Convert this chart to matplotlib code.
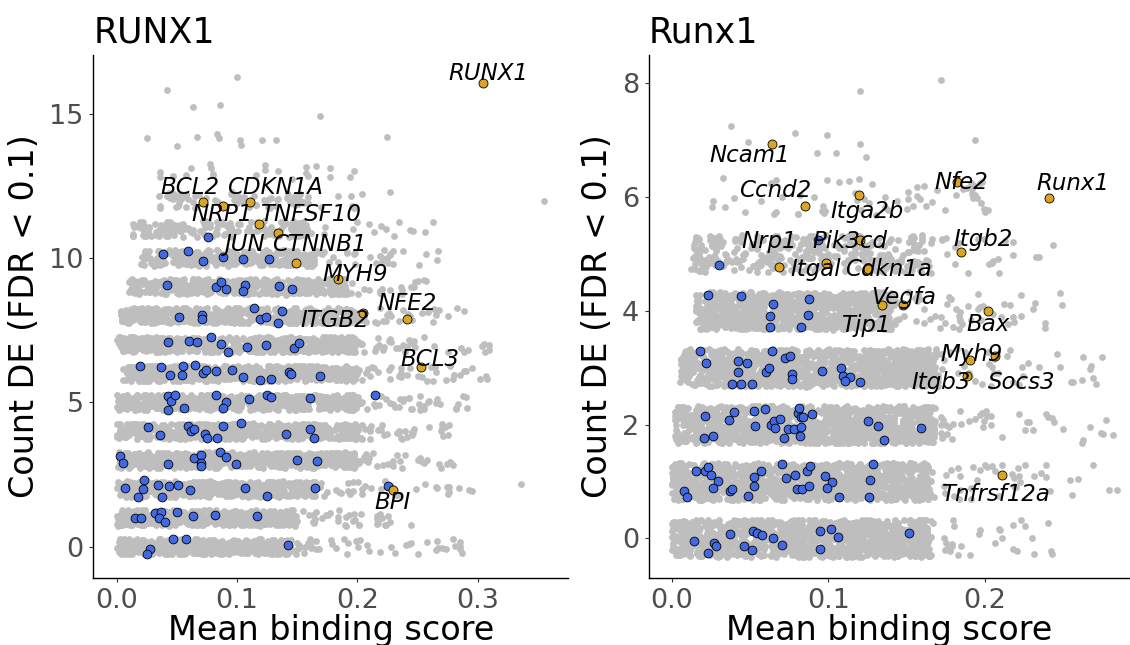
import numpy as np
import matplotlib.pyplot as plt

plt.rcParams['font.family'] = 'DejaVu Sans'

GREY = '#BEBEBE'
BLUE = '#4169E1'
GOLD = '#DAA520'

# ---------------- RUNX1 (human) ----------------
# background genes, one jittered band per DE count
hs_levels = [0, 1, 2, 3, 4, 5, 6, 7, 8, 9, 10, 11, 12, 13]
hs_dense_lo = [0.0, 0.0, 0.0, 0.0, 0.0, 0.0, 0.005, 0.0, 0.003, 0.01, 0.02, 0.01, 0.035, 0.015]
hs_dense_hi = [0.145, 0.15, 0.165, 0.2, 0.2, 0.2, 0.2, 0.2, 0.2, 0.19, 0.165, 0.16, 0.16, 0.2]
hs_n_dense = [460, 470, 500, 540, 540, 540, 520, 520, 500, 440, 300, 170, 75, 22]
hs_tail_hi = [0.29, 0.25, 0.3, 0.28, 0.28, 0.3, 0.31, 0.31, 0.29, 0.26, 0.28, 0.29, 0.23, 0.2]
hs_n_tail = [55, 45, 45, 40, 40, 45, 45, 45, 40, 30, 35, 20, 10, 0]
hs_extra_x = [0.0247, 0.0503, 0.0666, 0.0834, 0.0846, 0.1027, 0.1033, 0.1205, 0.1325,
              0.2247, 0.169, 0.063, 0.0858, 0.0419, 0.100, 0.355, 0.336, 0.285, 0.227]
hs_extra_y = [14.16, 13.86, 14.19, 14.29, 14.16, 14.09, 13.92, 14.07, 14.09,
              14.19, 14.9, 15.23, 15.31, 15.8, 16.28, 11.98, 2.17, 0.17, 12.29]

hs_blue_x = [0.0756,
             0.038, 0.0596, 0.072, 0.0883, 0.1045, 0.1265,
             0.0416, 0.0828, 0.0864, 0.0907, 0.1066, 0.1045, 0.1346, 0.1458,
             0.0515, 0.0711, 0.0711, 0.1139, 0.1187, 0.1241, 0.1373, 0.1337,
             0.0428, 0.0602, 0.0669, 0.0786, 0.0864, 0.0928, 0.1081, 0.1238, 0.147, 0.1518,
             0.0196, 0.0364, 0.044, 0.0548, 0.0542, 0.0648, 0.0717, 0.0741, 0.0822, 0.0955,
             0.1045, 0.1193, 0.128, 0.1434, 0.1452, 0.1693,
             0.2148, 0.0428, 0.0452, 0.0482, 0.0425, 0.0557, 0.0822, 0.091, 0.0886, 0.11,
             0.125, 0.128, 0.1605,
             0.0262, 0.0355, 0.059, 0.062, 0.0642, 0.0732, 0.0753, 0.0834, 0.0883, 0.1033,
             0.141, 0.1605, 0.1642,
             0.003, 0.0054, 0.0428, 0.0645, 0.0702, 0.0699, 0.0699, 0.0858, 0.0904, 0.0994,
             0.1494, 0.166,
             0.0072, 0.0229, 0.0217, 0.0175, 0.0343, 0.0377, 0.0437, 0.0506, 0.0608, 0.1063,
             0.125, 0.1645, 0.2253,
             0.0152, 0.0202, 0.0321, 0.0366, 0.0352, 0.0399, 0.0504, 0.0634, 0.082, 0.1166,
             0.0277, 0.0255, 0.0465, 0.0573, 0.1427]
hs_blue_y = [10.74,
             10.15, 10.24, 9.88, 10.02, 9.98, 9.98,
             9.08, 9.01, 9.18, 8.94, 9.05, 8.87, 9.03, 8.91,
             7.97, 8.01, 7.87, 8.28, 7.87, 7.94, 8.16, 7.76,
             7.10, 7.13, 7.09, 7.27, 7.03, 6.74, 6.93, 6.97, 6.87, 7.04,
             6.26, 6.23, 5.95, 6.26, 5.96, 6.29, 6.02, 6.12, 6.07, 6.12,
             5.87, 5.77, 5.80, 6.06, 5.99, 5.93,
             5.25, 5.23, 5.06, 5.26, 4.73, 4.82, 5.25, 5.02, 4.79, 5.13,
             5.26, 5.18, 5.16,
             4.14, 3.88, 4.18, 4.02, 4.09, 3.92, 3.76, 3.76, 4.19, 4.29,
             3.92, 4.08, 3.75,
             3.14, 2.91, 2.88, 3.08, 3.17, 2.91, 2.81, 3.29, 3.11, 2.88,
             3.02, 2.97,
             2.04, 2.31, 2.00, 1.74, 2.14, 1.71, 2.10, 2.14, 1.98, 2.04,
             1.75, 2.05, 2.10,
             1.00, 1.00, 1.18, 1.19, 0.99, 0.86, 1.20, 1.07, 1.11, 1.07,
             -0.08, -0.25, 0.26, 0.27, 0.06]

hs_genes = ['RUNX1', 'BCL2', 'NRP1', 'CDKN1A', 'TNFSF10', 'JUN', 'CTNNB1',
            'MYH9', 'ITGB2', 'NFE2', 'BCL3', 'BPI']
hs_gene_x = [0.3047, 0.0714, 0.0886, 0.111, 0.118, 0.134, 0.149,
             0.1842, 0.205, 0.241, 0.2527, 0.230]
hs_gene_y = [16.07, 11.95, 11.81, 11.95, 11.19, 10.88, 9.84,
             9.27, 8.08, 7.90, 6.24, 1.95]
hs_text_x = [0.3092, 0.0611, 0.0873, 0.1316, 0.161, 0.107, 0.168,
             0.198, 0.1815, 0.241, 0.2604, 0.229]
hs_text_y = [16.40, 12.43, 11.51, 12.43, 11.51, 10.48, 10.48,
             9.43, 7.85, 8.43, 6.47, 1.54]

# ---------------- Runx1 (mouse) ----------------
mm_levels = [0, 1, 2, 3, 4, 5, 6]
mm_dense_lo = [0.0, 0.0, 0.002, 0.005, 0.015, 0.012, 0.02]
mm_dense_hi = [0.165, 0.165, 0.168, 0.17, 0.14, 0.16, 0.2]
mm_n_dense = [1150, 1150, 1150, 1100, 820, 330, 55]
mm_tail_hi = [0.245, 0.285, 0.283, 0.275, 0.25, 0.245, 0.222]
mm_n_tail = [45, 55, 55, 55, 70, 35, 8]
mm_extra_x = [0.038, 0.049, 0.0786, 0.099, 0.0925, 0.105, 0.12, 0.124, 0.1935, 0.172, 0.12]
mm_extra_y = [7.25, 6.97, 7.13, 7.10, 6.77, 6.77, 6.94, 6.71, 7.0, 8.06, 7.86]

mm_blue_x = [0.0932, 0.030,
             0.0232, 0.044, 0.0646, 0.0874, 0.0625, 0.0872, 0.0629, 0.0827,
             0.0179, 0.0221, 0.0425, 0.048, 0.0421, 0.0387, 0.044, 0.0515, 0.060, 0.0621,
             0.0642, 0.0721, 0.0755, 0.0768, 0.0768, 0.0961, 0.1083, 0.1093, 0.1138, 0.1108,
             0.1204,
             0.0208, 0.0262, 0.0215, 0.0364, 0.0396, 0.0527, 0.053, 0.0598, 0.0634, 0.0653,
             0.0689, 0.0661, 0.074, 0.078, 0.0717, 0.0804, 0.0812, 0.0825, 0.084, 0.0823,
             0.0819, 0.0893, 0.1255, 0.1315, 0.1353, 0.1589,
             0.0157, 0.0213, 0.0234, 0.0251, 0.0294, 0.0262, 0.0081, 0.0096, 0.0372, 0.0387,
             0.0489, 0.0527, 0.0525, 0.057, 0.0702, 0.0731, 0.0785, 0.0862, 0.0885, 0.0798,
             0.0834, 0.0878, 0.0976, 0.1021, 0.0993, 0.1068, 0.1285, 0.1264, 0.1261,
             0.0145, 0.0232, 0.0272, 0.0283, 0.0374, 0.0461, 0.051, 0.0517, 0.0546, 0.0576,
             0.0644, 0.0704, 0.0946, 0.1015, 0.1061, 0.0948, 0.1514]
mm_blue_y = [5.24, 4.81,
             4.28, 4.26, 4.12, 4.21, 3.91, 3.93, 3.71, 3.71,
             3.30, 3.09, 3.12, 3.09, 2.92, 2.71, 2.71, 2.71, 2.93, 2.99,
             3.30, 3.17, 3.21, 2.89, 2.81, 2.94, 3.00, 2.86, 2.84, 2.77,
             2.75,
             1.77, 1.80, 2.16, 2.08, 2.23, 2.24, 1.98, 2.27, 1.99, 2.07,
             2.10, 1.95, 1.92, 1.92, 1.76, 2.20, 2.30, 2.14, 2.14, 1.96,
             1.80, 2.19, 2.06, 1.98, 1.73, 1.95,
             1.19, 1.19, 1.26, 1.11, 1.01, 0.88, 0.84, 0.73, 0.84, 0.87,
             0.75, 0.92, 1.08, 1.19, 1.30, 1.06, 1.11, 1.19, 1.27, 0.87,
             0.87, 0.92, 1.09, 0.99, 0.88, 0.72, 1.30, 1.03, 0.72,
             -0.05, -0.26, -0.085, -0.13, 0.08, -0.13, -0.20, 0.13, 0.10, 0.06,
             0.00, -0.12, 0.13, 0.17, 0.03, -0.19, 0.10]

mm_genes = ['Ncam1', 'Ccnd2', 'Itga2b', 'Nfe2', 'Runx1', 'Nrp1', 'Pik3cd', 'Itgal',
            'Cdkn1a', 'Itgb2', 'Tjp1', 'Vegfa', 'Bax', 'Myh9', 'Itgb3', 'Socs3', 'Tnfrsf12a']
mm_gene_x = [0.064, 0.0853, 0.1198, 0.1819, 0.2406, 0.0682, 0.1205, 0.0983,
             0.1256, 0.1848, 0.134, 0.1474, 0.202, 0.1904, 0.1887, 0.2063, 0.211]
mm_gene_y = [6.94, 5.84, 6.03, 6.26, 5.98, 4.78, 5.25, 4.85,
             4.73, 5.03, 4.10, 4.10, 3.99, 3.13, 2.86, 3.21, 1.12]
mm_text_x = [0.0497, 0.0657, 0.1249, 0.1846, 0.2557, 0.0622, 0.114, 0.0918,
             0.138, 0.1985, 0.124, 0.148, 0.2017, 0.1915, 0.172, 0.2234, 0.2063]
mm_text_y = [6.74, 6.11, 5.74, 6.25, 6.24, 5.22, 5.22, 4.73,
             4.73, 5.25, 3.74, 4.23, 3.76, 3.23, 2.75, 2.75, 0.765]

rng = np.random.default_rng(11)


def jitter_cloud(levels, lo, hi, n_dense, tail_hi, n_tail, height):
    xs, ys = [], []
    for lev, a, b, n, t, m in zip(levels, lo, hi, n_dense, tail_hi, n_tail):
        x = np.concatenate([rng.uniform(a, b, n),
                            b - 0.01 + (t - b + 0.01) * rng.uniform(0, 1, m) ** 1.6])
        xs.append(x)
        ys.append(lev + rng.uniform(-height, height, x.size))
    return np.concatenate(xs), np.concatenate(ys)


def draw_panel(ax, title, cloud, extra_x, extra_y, blue_x, blue_y,
               genes, gx, gy, tx, ty, xlim, ylim, xticks, yticks):
    cx, cy = cloud
    ax.scatter(cx, cy, s=24, c=GREY, linewidths=0, zorder=1)
    ax.scatter(extra_x, extra_y, s=24, c=GREY, linewidths=0, zorder=1)
    ax.scatter(blue_x, blue_y, s=40, c=BLUE, edgecolors='black', linewidths=0.6, zorder=2)
    ax.scatter(gx, gy, s=42, c=GOLD, edgecolors='black', linewidths=0.6, zorder=3)
    for g, x, y in zip(genes, tx, ty):
        ax.text(x, y, g, fontsize=16.5, style='italic', ha='center', va='center', zorder=4)
    ax.set_xlim(*xlim)
    ax.set_ylim(*ylim)
    ax.set_xticks(xticks)
    ax.set_xticklabels([f'{v:.1f}' for v in xticks])
    ax.set_yticks(yticks)
    for side in ['top', 'right']:
        ax.spines[side].set_visible(False)
    for side in ['left', 'bottom']:
        ax.spines[side].set_linewidth(1.0)
    ax.tick_params(length=3, width=0.8, color='#333333', labelsize=19.5,
                   labelcolor='#4D4D4D', pad=4)
    ax.set_xlabel('Mean binding score', fontsize=24, labelpad=0)
    ax.set_ylabel('Count DE (FDR < 0.1)', fontsize=24, labelpad=6)
    ax.set_title(title, fontsize=25, loc='left', pad=9)


fig = plt.figure(figsize=(11.3, 6.45), dpi=100)
ax1 = fig.add_axes([0.0826, 0.1039, 0.4200, 0.811])
ax2 = fig.add_axes([0.5743, 0.1039, 0.4257, 0.811])

draw_panel(ax1, 'RUNX1',
           jitter_cloud(hs_levels, hs_dense_lo, hs_dense_hi, hs_n_dense,
                        hs_tail_hi, hs_n_tail, 0.27),
           hs_extra_x, hs_extra_y, hs_blue_x, hs_blue_y,
           hs_genes, hs_gene_x, hs_gene_y, hs_text_x, hs_text_y,
           (-0.0195, 0.375), (-1.08, 17.03), [0.0, 0.1, 0.2, 0.3], [0, 5, 10, 15])

draw_panel(ax2, 'Runx1',
           jitter_cloud(mm_levels, mm_dense_lo, mm_dense_hi, mm_n_dense,
                        mm_tail_hi, mm_n_tail, 0.33),
           mm_extra_x, mm_extra_y, mm_blue_x, mm_blue_y,
           mm_genes, mm_gene_x, mm_gene_y, mm_text_x, mm_text_y,
           (-0.0145, 0.2925), (-0.695, 8.50), [0.0, 0.1, 0.2], [0, 2, 4, 6, 8])

fig.savefig('out.png', dpi=100)
